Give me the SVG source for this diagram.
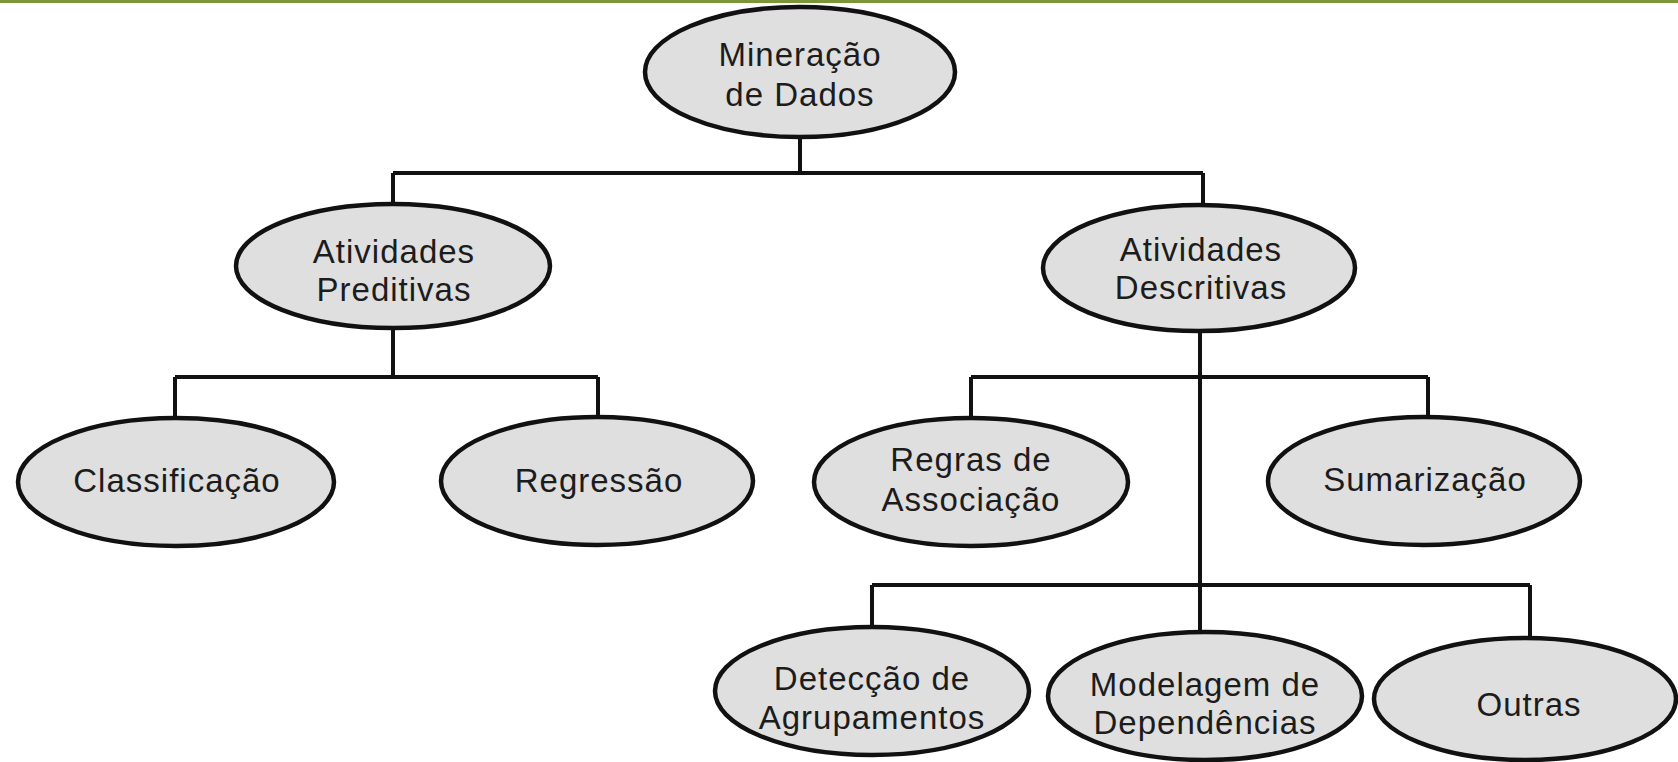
<svg xmlns="http://www.w3.org/2000/svg" width="1678" height="762" viewBox="0 0 1678 762">
<style>
.node ellipse{fill:#dfdfdf;stroke:#111;stroke-width:4.5}
.node text{font-family:"Liberation Sans",Arial,sans-serif;font-size:33px;fill:#1c1c1c;text-anchor:middle;letter-spacing:1px}
.conn path{fill:none;stroke:#111;stroke-width:4;stroke-linejoin:miter}
</style>
<rect x="0" y="0" width="1678" height="762" fill="#ffffff"/>
<rect x="0" y="0" width="1678" height="3" fill="#7a9636"/>
<g id="connectors" class="conn">
<path d="M800,137 V173 M393,173 H1203 M393,173 V205 M1203,173 V205"/>
<path d="M393,328 V377 M175,377 H598 M175,377 V418 M598,377 V418"/>
<path d="M1200,332 V632 M971,377 H1428 M971,377 V418 M1428,377 V417"/>
<path d="M872,585 H1530 M872,585 V627 M1530,585 V638"/>
</g>
<g id="n-mineracao" class="node">
<ellipse cx="800" cy="72" rx="155" ry="65"/>
<text x="800" y="66">Mineração</text>
<text x="800" y="106">de Dados</text>
</g>
<g id="n-preditivas" class="node">
<ellipse cx="393" cy="266" rx="157" ry="62"/>
<text x="394" y="263">Atividades</text>
<text x="394" y="301">Preditivas</text>
</g>
<g id="n-descritivas" class="node">
<ellipse cx="1199" cy="268" rx="156" ry="63"/>
<text x="1201" y="261">Atividades</text>
<text x="1201" y="299">Descritivas</text>
</g>
<g id="n-classificacao" class="node">
<ellipse cx="176" cy="482" rx="158" ry="64"/>
<text x="177" y="492">Classificação</text>
</g>
<g id="n-regressao" class="node">
<ellipse cx="597" cy="481" rx="156" ry="64"/>
<text x="599" y="492">Regressão</text>
</g>
<g id="n-regras" class="node">
<ellipse cx="971" cy="482" rx="157" ry="64"/>
<text x="971" y="471">Regras de</text>
<text x="971" y="511">Associação</text>
</g>
<g id="n-sumarizacao" class="node">
<ellipse cx="1424" cy="481" rx="156" ry="64"/>
<text x="1425" y="491">Sumarização</text>
</g>
<g id="n-deteccao" class="node">
<ellipse cx="872" cy="691" rx="157" ry="64"/>
<text x="872" y="690">Detecção de</text>
<text x="872" y="729">Agrupamentos</text>
</g>
<g id="n-modelagem" class="node">
<ellipse cx="1205" cy="696" rx="157" ry="64"/>
<text x="1205" y="696">Modelagem de</text>
<text x="1205" y="734">Dependências</text>
</g>
<g id="n-outras" class="node">
<ellipse cx="1525" cy="699" rx="151" ry="61"/>
<text x="1529" y="716">Outras</text>
</g>
</svg>
